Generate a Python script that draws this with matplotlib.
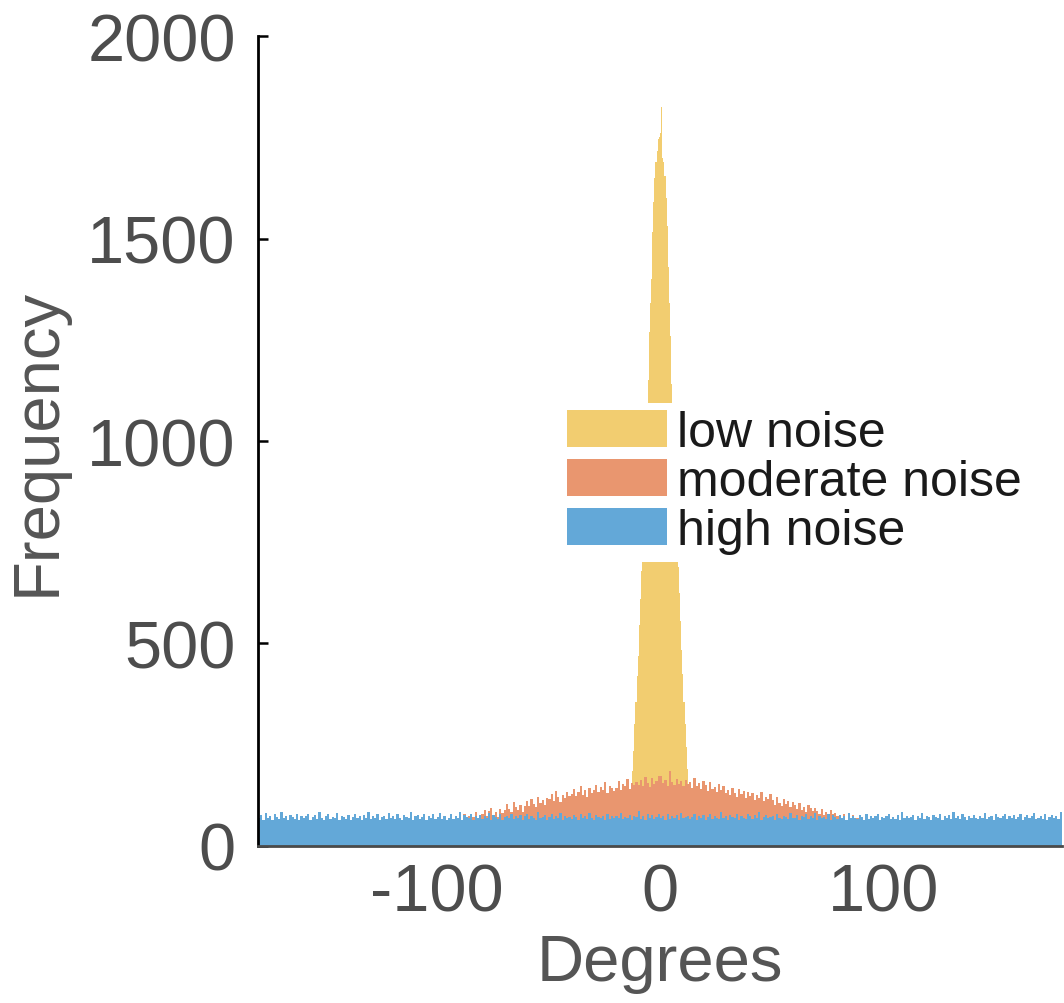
import numpy as np
import matplotlib.pyplot as plt

plt.rcParams['font.family'] = ['Liberation Sans', 'DejaVu Sans']
plt.rcParams['axes.unicode_minus'] = False

# ---- data (counts per bin) ----
# low noise: 0.5 degree bins from -13 to 13
low_edges = np.arange(-13.0, 13.01, 0.5)
low_counts = [115, 185, 235, 300, 355, 420, 470, 545, 610, 680, 745, 820, 890,
              960, 1040, 1150, 1270, 1340, 1400, 1515, 1590, 1650, 1690, 1715, 1745, 1750,
              1760, 1825, 1700, 1690, 1655, 1600, 1530, 1430, 1340, 1260, 1140, 1050, 975,
              905, 835, 755, 690, 625, 555, 485, 425, 355, 300, 245, 190, 120]

# moderate noise: 1 degree bins from -90 to 90
mod_edges = np.arange(-90, 91, 1)
mod_counts = [
    72, 63, 80, 67, 75, 61, 71, 84, 65, 77,
    79, 90, 74, 86, 95, 76, 83, 71, 92, 81,
    88, 104, 92, 85, 109, 97, 90, 101, 84, 99,
    110, 98, 117, 103, 96, 121, 106, 113, 100, 118,
    115, 129, 112, 136, 121, 109, 126, 118, 133, 123,
    128, 140, 124, 133, 147, 126, 138, 121, 143, 130,
    137, 151, 133, 145, 139, 157, 131, 148, 142, 136,
    144, 160, 139, 152, 147, 166, 141, 155, 150, 158,
    151, 163, 148, 171, 156, 145, 168, 153, 160, 174,
    172, 155, 163, 149, 184, 158, 150, 166, 153, 161,
    147, 164, 152, 158, 143, 167, 149, 156, 141, 160,
    150, 136, 157, 141, 146, 134, 153, 139, 148, 132,
    138, 126, 144, 131, 122, 140, 128, 135, 119, 133,
    124, 131, 113, 127, 118, 134, 110, 122, 116, 128,
    114, 102, 120, 107, 99, 116, 104, 111, 96, 108,
    100, 92, 105, 89, 97, 84, 101, 93, 87, 95,
    86, 80, 92, 77, 84, 73, 88, 79, 82, 75,
    74, 68, 79, 65, 71, 62, 76, 67, 70, 63,
]

# high noise: 1 degree bins from -180 to 180
high_edges = np.arange(-180, 181, 1)
high_counts = [
    70, 76, 65, 82, 68, 73, 63, 78, 71, 66, 84, 69, 74, 64, 77, 72, 67, 80, 65, 75,
    68, 73, 79, 64, 71, 76, 67, 83, 70, 65, 74, 78, 66, 72, 69, 81, 64, 75, 71, 67,
    77, 65, 72, 80, 68, 74, 63, 76, 70, 85, 66, 73, 69, 78, 64, 71, 75, 67, 82, 68,
    74, 66, 79, 70, 65, 77, 72, 68, 83, 64, 73, 76, 67, 71, 80, 65, 74, 69, 78, 66,
    72, 81, 67, 75, 64, 70, 78, 66, 73, 69, 84, 65, 76, 71, 68, 79, 64, 74, 70, 77,
    66, 73, 69, 82, 65, 76, 71, 67, 78, 64, 72, 75, 68, 80, 66, 74, 70, 77, 63, 73,
    79, 67, 74, 70, 65, 83, 68, 72, 76, 64, 71, 78, 66, 73, 69, 81, 65, 75, 68, 72,
    67, 76, 71, 64, 78, 69, 74, 66, 82, 70, 65, 77, 72, 68, 75, 63, 80, 67, 73, 70,
    75, 68, 81, 66, 72, 69, 77, 64, 74, 71, 86, 67, 73, 65, 79, 70, 76, 66, 72, 78,
    69, 74, 65, 80, 67, 73, 70, 76, 64, 82, 68, 72, 75, 66, 71, 78, 65, 74, 69, 77,
    64, 72, 78, 67, 75, 70, 66, 83, 69, 73, 65, 76, 71, 68, 80, 64, 74, 70, 67, 79,
    73, 66, 76, 69, 84, 65, 72, 77, 68, 71, 74, 64, 79, 70, 67, 75, 72, 66, 81, 68,
    70, 77, 64, 74, 71, 79, 66, 73, 68, 82, 65, 75, 69, 72, 67, 78, 64, 76, 71, 66,
    76, 69, 73, 65, 81, 68, 74, 70, 66, 77, 72, 64, 80, 67, 75, 69, 73, 78, 65, 71,
    68, 74, 79, 66, 72, 67, 76, 64, 83, 70, 75, 68, 71, 77, 65, 73, 69, 82, 66, 74,
    71, 65, 77, 72, 68, 80, 64, 74, 69, 76, 67, 85, 70, 73, 66, 78, 71, 65, 75, 69,
    77, 70, 66, 74, 69, 82, 67, 72, 75, 64, 78, 71, 68, 73, 80, 66, 74, 69, 76, 67,
    72, 78, 65, 71, 76, 68, 73, 81, 66, 70, 74, 67, 79, 64, 72, 77, 69, 75, 66, 84,
]

labels = ['low noise', 'moderate noise', 'high noise']
colors = ['#F2CD70', '#E9966F', '#63A8D8']

fig = plt.figure(figsize=(10.64, 10.04), dpi=100)
ax = fig.add_axes([0.2425, 0.1564, 0.7555, 0.8067])

ax.stairs(low_counts, low_edges, fill=True, color=colors[0], label=labels[0], zorder=1)
ax.stairs(mod_counts, mod_edges, fill=True, color=colors[1], label=labels[1], zorder=2)
ax.stairs(high_counts, high_edges, fill=True, color=colors[2], label=labels[2], zorder=3)

ax.set_xlim(-180, 180)
ax.set_ylim(0, 2000)
ax.set_xticks([-100, 0, 100])
ax.set_yticks([0, 500, 1000, 1500, 2000])

for s in ['top', 'right']:
    ax.spines[s].set_visible(False)
ax.spines['left'].set_linewidth(2.0)
ax.spines['left'].set_color('black')
ax.spines['bottom'].set_linewidth(2.0)
ax.spines['bottom'].set_color('#4a4a4a')
ax.spines['left'].set_zorder(5)
ax.spines['bottom'].set_zorder(5)

ax.tick_params(axis='y', direction='in', length=7, width=1.8, color='black',
               labelsize=48, labelcolor='#4d4d4d', pad=16)
ax.tick_params(axis='x', length=0, labelsize=48, labelcolor='#4d4d4d', pad=12)
for t in ax.get_yticklabels():
    t.set_verticalalignment('center_baseline')

ax.set_xlabel('Degrees', fontsize=47, color='#555555', labelpad=6)
ax.set_ylabel('Frequency', fontsize=47, color='#555555', labelpad=14)

leg = ax.legend(loc='upper left', bbox_to_anchor=(0.526, 0.598),
                bbox_transform=fig.transFigure, fontsize=36,
                handlelength=2.0, handleheight=0.76, handletextpad=0.2,
                labelspacing=0.06, borderpad=0.15, borderaxespad=0,
                frameon=True, fancybox=False, framealpha=1.0)
leg.get_frame().set_edgecolor('none')
leg.get_frame().set_facecolor('white')
leg.set_zorder(10)
for t in leg.get_texts():
    t.set_color('#1a1a1a')

fig.savefig('out.png', dpi=100)
